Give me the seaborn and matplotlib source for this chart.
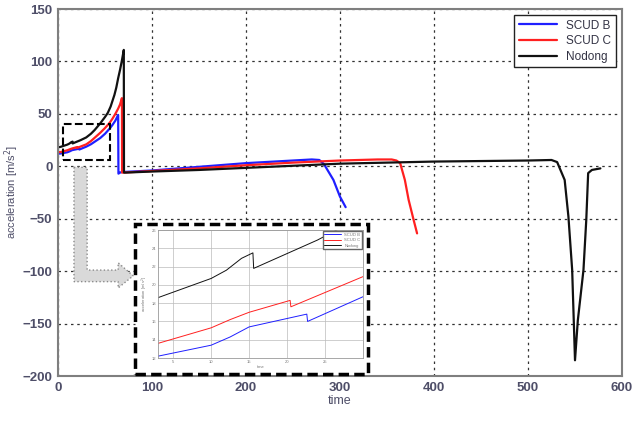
import matplotlib
matplotlib.use('Agg')
import matplotlib.pyplot as plt
from matplotlib.patches import Rectangle, Polygon
import seaborn as sns
import pandas as pd

# --- data ------------------------------------------------------------------
series_names = ['SCUD B', 'SCUD C', 'Nodong']
line_colors = ['#1f1fff', '#ff2020', '#111111']

scud_b_time = [0, 3, 10, 12.5, 15, 22.6, 22.7, 30, 35, 40, 45, 50, 55, 58,
               61, 64, 64.3, 66, 68, 100, 150, 200, 250, 270, 278, 283, 293,
               300, 306]
scud_b_acc = [12, 12.2, 13.4, 14.3, 15.4, 16.8, 16.0, 18.7, 21, 24, 27, 31,
              36, 39.5, 43.5, 49, -7, -6, -5.5, -4, -0.5, 3, 5.5, 6.5, 6, 2,
              -13, -29, -39]

scud_c_time = [0, 3, 10, 12.5, 15, 20.4, 20.5, 30, 35, 40, 45, 50, 55, 58,
               61, 64, 66, 68, 68.2, 70, 100, 150, 200, 250, 300, 340, 355,
               360, 364, 369, 373, 378, 382]
scud_c_acc = [13.5, 13.6, 15.3, 16.2, 17.0, 18.3, 17.6, 20.9, 24, 28, 32,
              36.5, 41.5, 45.5, 50, 55, 59, 65, -6, -6, -4.5, -2, 1, 3.5,
              5.5, 6.5, 6.5, 5.5, 3, -13, -32, -50, -64]

nodong_time = [0, 3, 10, 12, 14, 15.5, 15.6, 24, 30, 35, 39, 45, 50, 53, 56,
               60, 62, 64, 66, 68, 70, 70.2, 72, 100, 150, 200, 250, 300, 350,
               400, 450, 500, 525, 531, 539, 543, 547, 550, 553, 559, 562,
               564, 568, 577]
nodong_acc = [18, 18.6, 20.7, 21.6, 22.9, 23.5, 21.8, 24.9, 27.5, 31, 34.6,
              41, 47, 51, 57, 68, 75, 84, 92, 101, 111, -6, -6, -5, -3.5,
              -1.5, 0.5, 2.5, 3.5, 4.5, 5, 5.5, 6, 4, -13, -48, -99, -185,
              -147, -99, -51, -6.5, -3.5, -2]

x_ticks = [0, 100, 200, 300, 400, 500, 600]
y_ticks = [-200, -150, -100, -50, 0, 50, 100, 150]
inset_x_ticks = [5, 10, 15, 20, 25]
inset_y_ticks = [12, 14, 16, 18, 20, 22, 24, 26]

frames = []
for name, t, a in zip(series_names,
                      [scud_b_time, scud_c_time, nodong_time],
                      [scud_b_acc, scud_c_acc, nodong_acc]):
    frames.append(pd.DataFrame({'time': t, 'acceleration': a,
                                'missile': name}))
df = pd.concat(frames, ignore_index=True)
palette = dict(zip(series_names, line_colors))

sns.set_theme(style="white")
plt.rcParams['font.family'] = ['Liberation Sans', 'DejaVu Sans']

TICK_COLOR = '#4e4e68'
fig = plt.figure(figsize=(6.36, 4.36), dpi=100)
ax = fig.add_axes([58 / 636, 1 - 376 / 436, 564 / 636, 367 / 436])

sns.lineplot(data=df, x='time', y='acceleration', hue='missile',
             hue_order=series_names, palette=palette, estimator=None,
             sort=False, linewidth=1.6, ax=ax)

ax.set_xlim(0, 600)
ax.set_ylim(-200, 150)
ax.set_xticks(x_ticks)
ax.set_yticks(y_ticks)
ax.grid(True, color='#333333', linestyle=(0, (2, 3)), linewidth=0.9)
for s in ax.spines.values():
    s.set_color('#7f7f7f')
    s.set_linewidth(1.5)
ax.tick_params(axis='both', labelsize=9.5, colors=TICK_COLOR, length=3,
               direction='in', pad=4)
for lab in ax.get_xticklabels() + ax.get_yticklabels():
    lab.set_fontweight('bold')
ax.set_xlabel('time', fontsize=9, color=TICK_COLOR, labelpad=1)
ax.set_ylabel('acceleration [m/s$^2$]', fontsize=8, color=TICK_COLOR,
              labelpad=1)

leg = ax.legend(loc='upper right', fontsize=8.5, frameon=True, fancybox=False,
                framealpha=1, edgecolor='#222222', handlelength=3.2,
                borderaxespad=0.5, labelspacing=0.3)
for txt in leg.get_texts():
    txt.set_color('#333344')

# small dashed box marking the zoomed region
ax.add_patch(Rectangle((5, 6), 50, 34, fill=False, edgecolor='black',
                       linestyle='--', linewidth=1.5, zorder=4))

# grey L-shaped arrow towards the inset
arrow_pts = [(17, -1), (31, -1), (31, -99), (64, -99), (64, -92),
             (80, -104.5), (64, -116), (64, -110), (17, -110)]
ax.add_patch(Polygon(arrow_pts, closed=True, facecolor='#d9d9d9',
                     edgecolor='#8a8a8a', linestyle=':', linewidth=1.0,
                     zorder=3))

# dashed frame around the inset
frame = Rectangle((135 / 636, 1 - 374 / 436), 233 / 636, 150 / 436,
                  transform=fig.transFigure, facecolor='white',
                  edgecolor='black', linestyle=(0, (3, 1.5)),
                  linewidth=2.5, zorder=2)
fig.add_artist(frame)

ins = fig.add_axes([158 / 636, 1 - 358 / 436, 205 / 636, 128 / 436])
ins.set_zorder(3)
sns.lineplot(data=df, x='time', y='acceleration', hue='missile',
             hue_order=series_names, palette=palette, estimator=None,
             sort=False, linewidth=0.7, ax=ins)
ins.set_xlim(3, 30)
ins.set_ylim(12, 26)
ins.set_xticks(inset_x_ticks)
ins.set_yticks(inset_y_ticks)
ins.grid(True, color='#bbbbbb', linewidth=0.5)
for s in ins.spines.values():
    s.set_color('#999999')
    s.set_linewidth(0.6)
ins.tick_params(axis='both', labelsize=3, colors='#777777', length=1.5,
                direction='in', pad=1.5)
ins.set_xlabel('time', fontsize=3, color='#777777', labelpad=0.5)
ins.set_ylabel('acceleration [m/s$^2$]', fontsize=3, color='#777777',
               labelpad=1)
ileg = ins.legend(loc='upper right', fontsize=3, frameon=True, fancybox=False,
                  framealpha=1, edgecolor='#666666', handlelength=4,
                  borderaxespad=0.2, labelspacing=0.4)
for txt in ileg.get_texts():
    txt.set_color('#777777')

fig.savefig('out.png', dpi=100, facecolor='white')
